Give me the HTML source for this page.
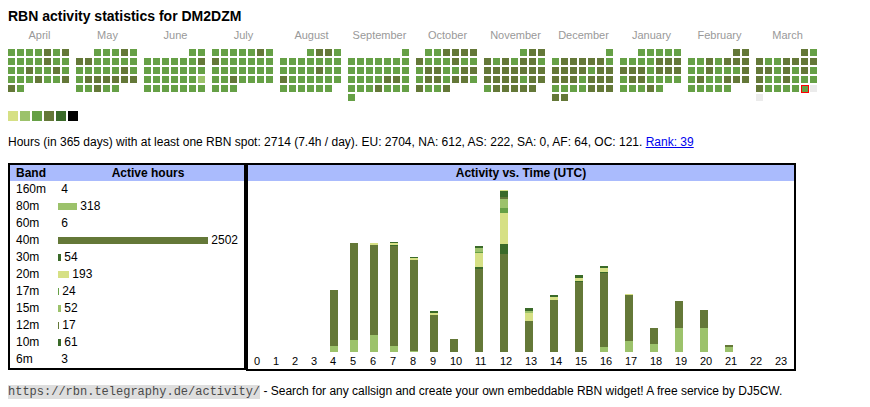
<!DOCTYPE html>
<html><head><meta charset="utf-8"><style>
html,body{margin:0;padding:0;background:#fff;}
body{width:870px;height:407px;position:relative;overflow:hidden;font-family:"Liberation Sans",sans-serif;color:#000;}
i,b.lg{position:absolute;display:block;width:7px;height:7px;}
b.lg{top:111px;width:10px;height:10px;}
.t{position:absolute;left:8px;top:5.5px;font-weight:bold;font-size:14px;line-height:20px;white-space:nowrap;}
.ml{position:absolute;top:27px;width:61px;text-align:center;font-size:11px;line-height:16px;color:#999;}
.st{position:absolute;left:8px;top:134px;font-size:12px;line-height:16px;white-space:nowrap;}
.st a{color:#00e;text-decoration:underline;}
.tb{position:absolute;box-sizing:border-box;border:2px solid #000;}
.hd{position:absolute;top:165px;height:16px;background:#aabbfd;font-weight:bold;font-size:12px;line-height:16px;white-space:nowrap;}
.br{position:absolute;left:10px;height:17px;font-size:12px;line-height:17px;white-space:pre;width:234px;}
.bn{position:absolute;left:6px;}
.bv{position:absolute;left:48px;}
.bb{display:inline-block;height:7px;vertical-align:baseline;}
.hl{position:absolute;top:353px;font-size:11px;line-height:16px;}
.ft{position:absolute;left:8px;top:383px;font-size:12px;line-height:16px;white-space:pre;}
.ft code{font-family:"Liberation Mono",monospace;font-size:12px;background:#dedede;color:#4a4a4a;}
</style></head><body>
<div class="t">RBN activity statistics for DM2DZM</div>
<div class="ml" style="left:9px">April</div><div class="ml" style="left:77px">May</div><div class="ml" style="left:145px">June</div><div class="ml" style="left:213px">July</div><div class="ml" style="left:281px">August</div><div class="ml" style="left:349px">September</div><div class="ml" style="left:417px">October</div><div class="ml" style="left:485px">November</div><div class="ml" style="left:553px">December</div><div class="ml" style="left:621px">January</div><div class="ml" style="left:689px">February</div><div class="ml" style="left:757px">March</div>
<i style="left:8px;top:49px;background:#66a046"></i><i style="left:17px;top:49px;background:#66a046"></i><i style="left:26px;top:49px;background:#66a046"></i><i style="left:35px;top:49px;background:#66a046"></i><i style="left:44px;top:49px;background:#647838"></i><i style="left:53px;top:49px;background:#66a046"></i><i style="left:62px;top:49px;background:#647838"></i><i style="left:8px;top:58px;background:#66a046"></i><i style="left:17px;top:58px;background:#66a046"></i><i style="left:26px;top:58px;background:#66a046"></i><i style="left:35px;top:58px;background:#66a046"></i><i style="left:44px;top:58px;background:#647838"></i><i style="left:53px;top:58px;background:#66a046"></i><i style="left:62px;top:58px;background:#66a046"></i><i style="left:8px;top:67px;background:#66a046"></i><i style="left:17px;top:67px;background:#66a046"></i><i style="left:26px;top:67px;background:#647838"></i><i style="left:35px;top:67px;background:#66a046"></i><i style="left:44px;top:67px;background:#66a046"></i><i style="left:53px;top:67px;background:#647838"></i><i style="left:62px;top:67px;background:#66a046"></i><i style="left:8px;top:76px;background:#66a046"></i><i style="left:17px;top:76px;background:#66a046"></i><i style="left:26px;top:76px;background:#66a046"></i><i style="left:35px;top:76px;background:#647838"></i><i style="left:44px;top:76px;background:#66a046"></i><i style="left:53px;top:76px;background:#66a046"></i><i style="left:62px;top:76px;background:#647838"></i><i style="left:8px;top:85px;background:#647838"></i><i style="left:17px;top:85px;background:#66a046"></i><i style="left:94px;top:49px;background:#66a046"></i><i style="left:103px;top:49px;background:#66a046"></i><i style="left:112px;top:49px;background:#66a046"></i><i style="left:121px;top:49px;background:#647838"></i><i style="left:130px;top:49px;background:#66a046"></i><i style="left:76px;top:58px;background:#647838"></i><i style="left:85px;top:58px;background:#647838"></i><i style="left:94px;top:58px;background:#66a046"></i><i style="left:103px;top:58px;background:#66a046"></i><i style="left:112px;top:58px;background:#66a046"></i><i style="left:121px;top:58px;background:#66a046"></i><i style="left:130px;top:58px;background:#66a046"></i><i style="left:76px;top:67px;background:#66a046"></i><i style="left:85px;top:67px;background:#66a046"></i><i style="left:94px;top:67px;background:#66a046"></i><i style="left:103px;top:67px;background:#66a046"></i><i style="left:112px;top:67px;background:#66a046"></i><i style="left:121px;top:67px;background:#647838"></i><i style="left:130px;top:67px;background:#66a046"></i><i style="left:76px;top:76px;background:#66a046"></i><i style="left:85px;top:76px;background:#647838"></i><i style="left:94px;top:76px;background:#647838"></i><i style="left:103px;top:76px;background:#647838"></i><i style="left:112px;top:76px;background:#647838"></i><i style="left:121px;top:76px;background:#647838"></i><i style="left:130px;top:76px;background:#647838"></i><i style="left:76px;top:85px;background:#66a046"></i><i style="left:85px;top:85px;background:#66a046"></i><i style="left:94px;top:85px;background:#647838"></i><i style="left:103px;top:85px;background:#66a046"></i><i style="left:112px;top:85px;background:#66a046"></i><i style="left:189px;top:49px;background:#66a046"></i><i style="left:198px;top:49px;background:#66a046"></i><i style="left:144px;top:58px;background:#66a046"></i><i style="left:153px;top:58px;background:#66a046"></i><i style="left:162px;top:58px;background:#66a046"></i><i style="left:171px;top:58px;background:#66a046"></i><i style="left:180px;top:58px;background:#66a046"></i><i style="left:189px;top:58px;background:#66a046"></i><i style="left:198px;top:58px;background:#647838"></i><i style="left:144px;top:67px;background:#66a046"></i><i style="left:153px;top:67px;background:#66a046"></i><i style="left:162px;top:67px;background:#66a046"></i><i style="left:171px;top:67px;background:#66a046"></i><i style="left:180px;top:67px;background:#66a046"></i><i style="left:189px;top:67px;background:#66a046"></i><i style="left:198px;top:67px;background:#66a046"></i><i style="left:144px;top:76px;background:#66a046"></i><i style="left:153px;top:76px;background:#66a046"></i><i style="left:162px;top:76px;background:#66a046"></i><i style="left:171px;top:76px;background:#66a046"></i><i style="left:180px;top:76px;background:#66a046"></i><i style="left:189px;top:76px;background:#66a046"></i><i style="left:198px;top:76px;background:#9cc26b"></i><i style="left:144px;top:85px;background:#66a046"></i><i style="left:153px;top:85px;background:#66a046"></i><i style="left:162px;top:85px;background:#66a046"></i><i style="left:171px;top:85px;background:#66a046"></i><i style="left:180px;top:85px;background:#66a046"></i><i style="left:189px;top:85px;background:#66a046"></i><i style="left:198px;top:85px;background:#66a046"></i><i style="left:212px;top:49px;background:#66a046"></i><i style="left:221px;top:49px;background:#66a046"></i><i style="left:230px;top:49px;background:#66a046"></i><i style="left:239px;top:49px;background:#66a046"></i><i style="left:248px;top:49px;background:#66a046"></i><i style="left:257px;top:49px;background:#647838"></i><i style="left:266px;top:49px;background:#66a046"></i><i style="left:212px;top:58px;background:#647838"></i><i style="left:221px;top:58px;background:#66a046"></i><i style="left:230px;top:58px;background:#66a046"></i><i style="left:239px;top:58px;background:#66a046"></i><i style="left:248px;top:58px;background:#66a046"></i><i style="left:257px;top:58px;background:#66a046"></i><i style="left:266px;top:58px;background:#66a046"></i><i style="left:212px;top:67px;background:#66a046"></i><i style="left:221px;top:67px;background:#66a046"></i><i style="left:230px;top:67px;background:#66a046"></i><i style="left:239px;top:67px;background:#66a046"></i><i style="left:248px;top:67px;background:#66a046"></i><i style="left:257px;top:67px;background:#66a046"></i><i style="left:266px;top:67px;background:#66a046"></i><i style="left:212px;top:76px;background:#66a046"></i><i style="left:221px;top:76px;background:#66a046"></i><i style="left:230px;top:76px;background:#647838"></i><i style="left:239px;top:76px;background:#66a046"></i><i style="left:248px;top:76px;background:#66a046"></i><i style="left:257px;top:76px;background:#66a046"></i><i style="left:266px;top:76px;background:#66a046"></i><i style="left:212px;top:85px;background:#66a046"></i><i style="left:221px;top:85px;background:#66a046"></i><i style="left:230px;top:85px;background:#66a046"></i><i style="left:307px;top:49px;background:#66a046"></i><i style="left:316px;top:49px;background:#647838"></i><i style="left:325px;top:49px;background:#647838"></i><i style="left:334px;top:49px;background:#66a046"></i><i style="left:280px;top:58px;background:#66a046"></i><i style="left:289px;top:58px;background:#66a046"></i><i style="left:298px;top:58px;background:#66a046"></i><i style="left:307px;top:58px;background:#66a046"></i><i style="left:316px;top:58px;background:#66a046"></i><i style="left:325px;top:58px;background:#66a046"></i><i style="left:334px;top:58px;background:#66a046"></i><i style="left:280px;top:67px;background:#66a046"></i><i style="left:289px;top:67px;background:#66a046"></i><i style="left:298px;top:67px;background:#66a046"></i><i style="left:307px;top:67px;background:#66a046"></i><i style="left:316px;top:67px;background:#647838"></i><i style="left:325px;top:67px;background:#66a046"></i><i style="left:334px;top:67px;background:#66a046"></i><i style="left:280px;top:76px;background:#647838"></i><i style="left:289px;top:76px;background:#66a046"></i><i style="left:298px;top:76px;background:#66a046"></i><i style="left:307px;top:76px;background:#66a046"></i><i style="left:316px;top:76px;background:#66a046"></i><i style="left:325px;top:76px;background:#66a046"></i><i style="left:334px;top:76px;background:#66a046"></i><i style="left:280px;top:85px;background:#66a046"></i><i style="left:289px;top:85px;background:#66a046"></i><i style="left:298px;top:85px;background:#66a046"></i><i style="left:307px;top:85px;background:#66a046"></i><i style="left:316px;top:85px;background:#66a046"></i><i style="left:325px;top:85px;background:#66a046"></i><i style="left:402px;top:49px;background:#66a046"></i><i style="left:348px;top:58px;background:#66a046"></i><i style="left:357px;top:58px;background:#66a046"></i><i style="left:366px;top:58px;background:#66a046"></i><i style="left:375px;top:58px;background:#66a046"></i><i style="left:384px;top:58px;background:#66a046"></i><i style="left:393px;top:58px;background:#66a046"></i><i style="left:402px;top:58px;background:#66a046"></i><i style="left:348px;top:67px;background:#66a046"></i><i style="left:357px;top:67px;background:#66a046"></i><i style="left:366px;top:67px;background:#66a046"></i><i style="left:375px;top:67px;background:#66a046"></i><i style="left:384px;top:67px;background:#66a046"></i><i style="left:393px;top:67px;background:#66a046"></i><i style="left:402px;top:67px;background:#66a046"></i><i style="left:348px;top:76px;background:#66a046"></i><i style="left:357px;top:76px;background:#66a046"></i><i style="left:366px;top:76px;background:#66a046"></i><i style="left:375px;top:76px;background:#66a046"></i><i style="left:384px;top:76px;background:#647838"></i><i style="left:393px;top:76px;background:#647838"></i><i style="left:402px;top:76px;background:#66a046"></i><i style="left:348px;top:85px;background:#66a046"></i><i style="left:357px;top:85px;background:#66a046"></i><i style="left:366px;top:85px;background:#66a046"></i><i style="left:375px;top:85px;background:#647838"></i><i style="left:384px;top:85px;background:#66a046"></i><i style="left:393px;top:85px;background:#66a046"></i><i style="left:402px;top:85px;background:#66a046"></i><i style="left:348px;top:94px;background:#66a046"></i><i style="left:425px;top:49px;background:#66a046"></i><i style="left:434px;top:49px;background:#66a046"></i><i style="left:443px;top:49px;background:#647838"></i><i style="left:452px;top:49px;background:#647838"></i><i style="left:461px;top:49px;background:#647838"></i><i style="left:470px;top:49px;background:#647838"></i><i style="left:416px;top:58px;background:#647838"></i><i style="left:425px;top:58px;background:#66a046"></i><i style="left:434px;top:58px;background:#66a046"></i><i style="left:443px;top:58px;background:#66a046"></i><i style="left:452px;top:58px;background:#647838"></i><i style="left:461px;top:58px;background:#66a046"></i><i style="left:470px;top:58px;background:#66a046"></i><i style="left:416px;top:67px;background:#66a046"></i><i style="left:425px;top:67px;background:#647838"></i><i style="left:434px;top:67px;background:#647838"></i><i style="left:443px;top:67px;background:#66a046"></i><i style="left:452px;top:67px;background:#66a046"></i><i style="left:461px;top:67px;background:#647838"></i><i style="left:470px;top:67px;background:#647838"></i><i style="left:416px;top:76px;background:#66a046"></i><i style="left:425px;top:76px;background:#647838"></i><i style="left:434px;top:76px;background:#647838"></i><i style="left:443px;top:76px;background:#66a046"></i><i style="left:452px;top:76px;background:#647838"></i><i style="left:461px;top:76px;background:#647838"></i><i style="left:470px;top:76px;background:#66a046"></i><i style="left:416px;top:85px;background:#647838"></i><i style="left:425px;top:85px;background:#66a046"></i><i style="left:434px;top:85px;background:#66a046"></i><i style="left:443px;top:85px;background:#647838"></i><i style="left:520px;top:49px;background:#66a046"></i><i style="left:529px;top:49px;background:#647838"></i><i style="left:538px;top:49px;background:#647838"></i><i style="left:484px;top:58px;background:#647838"></i><i style="left:493px;top:58px;background:#66a046"></i><i style="left:502px;top:58px;background:#647838"></i><i style="left:511px;top:58px;background:#66a046"></i><i style="left:520px;top:58px;background:#647838"></i><i style="left:529px;top:58px;background:#647838"></i><i style="left:538px;top:58px;background:#66a046"></i><i style="left:484px;top:67px;background:#647838"></i><i style="left:493px;top:67px;background:#647838"></i><i style="left:502px;top:67px;background:#647838"></i><i style="left:511px;top:67px;background:#647838"></i><i style="left:520px;top:67px;background:#647838"></i><i style="left:529px;top:67px;background:#647838"></i><i style="left:538px;top:67px;background:#647838"></i><i style="left:484px;top:76px;background:#647838"></i><i style="left:493px;top:76px;background:#647838"></i><i style="left:502px;top:76px;background:#647838"></i><i style="left:511px;top:76px;background:#647838"></i><i style="left:520px;top:76px;background:#66a046"></i><i style="left:529px;top:76px;background:#647838"></i><i style="left:538px;top:76px;background:#647838"></i><i style="left:484px;top:85px;background:#66a046"></i><i style="left:493px;top:85px;background:#647838"></i><i style="left:502px;top:85px;background:#647838"></i><i style="left:511px;top:85px;background:#647838"></i><i style="left:520px;top:85px;background:#647838"></i><i style="left:529px;top:85px;background:#647838"></i><i style="left:606px;top:49px;background:#66a046"></i><i style="left:552px;top:58px;background:#66a046"></i><i style="left:561px;top:58px;background:#647838"></i><i style="left:570px;top:58px;background:#647838"></i><i style="left:579px;top:58px;background:#647838"></i><i style="left:588px;top:58px;background:#647838"></i><i style="left:597px;top:58px;background:#647838"></i><i style="left:606px;top:58px;background:#66a046"></i><i style="left:552px;top:67px;background:#647838"></i><i style="left:561px;top:67px;background:#647838"></i><i style="left:570px;top:67px;background:#647838"></i><i style="left:579px;top:67px;background:#647838"></i><i style="left:588px;top:67px;background:#66a046"></i><i style="left:597px;top:67px;background:#647838"></i><i style="left:606px;top:67px;background:#647838"></i><i style="left:552px;top:76px;background:#647838"></i><i style="left:561px;top:76px;background:#647838"></i><i style="left:570px;top:76px;background:#647838"></i><i style="left:579px;top:76px;background:#66a046"></i><i style="left:588px;top:76px;background:#647838"></i><i style="left:597px;top:76px;background:#647838"></i><i style="left:606px;top:76px;background:#647838"></i><i style="left:552px;top:85px;background:#66a046"></i><i style="left:561px;top:85px;background:#66a046"></i><i style="left:570px;top:85px;background:#66a046"></i><i style="left:579px;top:85px;background:#66a046"></i><i style="left:588px;top:85px;background:#647838"></i><i style="left:597px;top:85px;background:#647838"></i><i style="left:606px;top:85px;background:#647838"></i><i style="left:552px;top:94px;background:#647838"></i><i style="left:561px;top:94px;background:#647838"></i><i style="left:638px;top:49px;background:#66a046"></i><i style="left:647px;top:49px;background:#66a046"></i><i style="left:656px;top:49px;background:#66a046"></i><i style="left:665px;top:49px;background:#66a046"></i><i style="left:674px;top:49px;background:#66a046"></i><i style="left:620px;top:58px;background:#66a046"></i><i style="left:629px;top:58px;background:#66a046"></i><i style="left:638px;top:58px;background:#66a046"></i><i style="left:647px;top:58px;background:#66a046"></i><i style="left:656px;top:58px;background:#647838"></i><i style="left:665px;top:58px;background:#647838"></i><i style="left:674px;top:58px;background:#647838"></i><i style="left:620px;top:67px;background:#647838"></i><i style="left:629px;top:67px;background:#647838"></i><i style="left:638px;top:67px;background:#647838"></i><i style="left:647px;top:67px;background:#66a046"></i><i style="left:656px;top:67px;background:#647838"></i><i style="left:665px;top:67px;background:#647838"></i><i style="left:674px;top:67px;background:#647838"></i><i style="left:620px;top:76px;background:#66a046"></i><i style="left:629px;top:76px;background:#647838"></i><i style="left:638px;top:76px;background:#647838"></i><i style="left:647px;top:76px;background:#66a046"></i><i style="left:656px;top:76px;background:#66a046"></i><i style="left:665px;top:76px;background:#66a046"></i><i style="left:674px;top:76px;background:#66a046"></i><i style="left:620px;top:85px;background:#66a046"></i><i style="left:629px;top:85px;background:#66a046"></i><i style="left:638px;top:85px;background:#66a046"></i><i style="left:647px;top:85px;background:#647838"></i><i style="left:656px;top:85px;background:#66a046"></i><i style="left:733px;top:49px;background:#647838"></i><i style="left:742px;top:49px;background:#647838"></i><i style="left:688px;top:58px;background:#66a046"></i><i style="left:697px;top:58px;background:#66a046"></i><i style="left:706px;top:58px;background:#647838"></i><i style="left:715px;top:58px;background:#66a046"></i><i style="left:724px;top:58px;background:#647838"></i><i style="left:733px;top:58px;background:#647838"></i><i style="left:742px;top:58px;background:#647838"></i><i style="left:688px;top:67px;background:#66a046"></i><i style="left:697px;top:67px;background:#66a046"></i><i style="left:706px;top:67px;background:#647838"></i><i style="left:715px;top:67px;background:#66a046"></i><i style="left:724px;top:67px;background:#66a046"></i><i style="left:733px;top:67px;background:#66a046"></i><i style="left:742px;top:67px;background:#647838"></i><i style="left:688px;top:76px;background:#66a046"></i><i style="left:697px;top:76px;background:#647838"></i><i style="left:706px;top:76px;background:#66a046"></i><i style="left:715px;top:76px;background:#66a046"></i><i style="left:724px;top:76px;background:#647838"></i><i style="left:733px;top:76px;background:#647838"></i><i style="left:742px;top:76px;background:#647838"></i><i style="left:688px;top:85px;background:#66a046"></i><i style="left:697px;top:85px;background:#66a046"></i><i style="left:706px;top:85px;background:#66a046"></i><i style="left:715px;top:85px;background:#66a046"></i><i style="left:724px;top:85px;background:#66a046"></i><i style="left:801px;top:49px;background:#647838"></i><i style="left:810px;top:49px;background:#66a046"></i><i style="left:756px;top:58px;background:#647838"></i><i style="left:765px;top:58px;background:#66a046"></i><i style="left:774px;top:58px;background:#66a046"></i><i style="left:783px;top:58px;background:#647838"></i><i style="left:792px;top:58px;background:#647838"></i><i style="left:801px;top:58px;background:#647838"></i><i style="left:810px;top:58px;background:#647838"></i><i style="left:756px;top:67px;background:#647838"></i><i style="left:765px;top:67px;background:#647838"></i><i style="left:774px;top:67px;background:#66a046"></i><i style="left:783px;top:67px;background:#647838"></i><i style="left:792px;top:67px;background:#66a046"></i><i style="left:801px;top:67px;background:#647838"></i><i style="left:810px;top:67px;background:#66a046"></i><i style="left:756px;top:76px;background:#647838"></i><i style="left:765px;top:76px;background:#66a046"></i><i style="left:774px;top:76px;background:#66a046"></i><i style="left:783px;top:76px;background:#647838"></i><i style="left:792px;top:76px;background:#66a046"></i><i style="left:801px;top:76px;background:#66a046"></i><i style="left:810px;top:76px;background:#66a046"></i><i style="left:756px;top:85px;background:#647838"></i><i style="left:765px;top:85px;background:#66a046"></i><i style="left:774px;top:85px;background:#66a046"></i><i style="left:783px;top:85px;background:#66a046"></i><i style="left:792px;top:85px;background:#66a046"></i><i style="left:801px;top:85px;width:6px;height:6px;border:1px solid #f00;background:#66a046"></i><i style="left:810px;top:85px;background:#ebebeb"></i><i style="left:756px;top:94px;background:#ebebeb"></i>
<b class="lg" style="left:8px;background:#d6e085"></b><b class="lg" style="left:20px;background:#9cc26b"></b><b class="lg" style="left:32px;background:#66a046"></b><b class="lg" style="left:44px;background:#647838"></b><b class="lg" style="left:56px;background:#3a6a29"></b><b class="lg" style="left:68px;background:#000000"></b>
<div class="st">Hours (in 365 days) with at least one RBN spot: 2714 (7.4h / day). EU: 2704, NA: 612, AS: 222, SA: 0, AF: 64, OC: 121. <a>Rank: 39</a></div>
<div class="tb" style="left:8px;top:163px;width:238px;height:207px"></div>
<div class="tb" style="left:246px;top:163px;width:550px;height:208px"></div>
<div class="hd" style="left:10px;width:234px"><span style="position:absolute;left:6px">Band</span><span style="position:absolute;left:42px;width:192px;text-align:center">Active hours</span></div>
<div class="hd" style="left:248px;width:546px;text-align:center">Activity vs. Time (UTC)</div>
<div class="br" style="top:181px"><span class="bn">160m</span><span class="bv"> 4</span></div><div class="br" style="top:198px"><span class="bn">80m</span><span class="bv"><span class="bb" style="width:19px;background:#9cc26b"></span> 318</span></div><div class="br" style="top:215px"><span class="bn">60m</span><span class="bv"> 6</span></div><div class="br" style="top:232px"><span class="bn">40m</span><span class="bv"><span class="bb" style="width:150px;background:#647838"></span> 2502</span></div><div class="br" style="top:249px"><span class="bn">30m</span><span class="bv"><span class="bb" style="width:3px;background:#3a6a29"></span> 54</span></div><div class="br" style="top:266px"><span class="bn">20m</span><span class="bv"><span class="bb" style="width:11px;background:#d6e085"></span> 193</span></div><div class="br" style="top:283px"><span class="bn">17m</span><span class="bv"><span class="bb" style="width:1px;background:#66a046"></span> 24</span></div><div class="br" style="top:300px"><span class="bn">15m</span><span class="bv"><span class="bb" style="width:3px;background:#9cc26b"></span> 52</span></div><div class="br" style="top:317px"><span class="bn">12m</span><span class="bv"><span class="bb" style="width:1px;background:#647838"></span> 17</span></div><div class="br" style="top:334px"><span class="bn">10m</span><span class="bv"><span class="bb" style="width:3px;background:#3a6a29"></span> 61</span></div><div class="br" style="top:351px"><span class="bn">6m</span><span class="bv"> 3</span></div>
<i style="left:330px;top:290px;width:8px;height:56px;background:#647838"></i><i style="left:330px;top:346px;width:8px;height:6px;background:#9cc26b"></i><i style="left:350px;top:243px;width:8px;height:97px;background:#647838"></i><i style="left:350px;top:340px;width:8px;height:12px;background:#9cc26b"></i><i style="left:370px;top:243px;width:8px;height:2px;background:#d6e085"></i><i style="left:370px;top:245px;width:8px;height:90px;background:#647838"></i><i style="left:370px;top:335px;width:8px;height:17px;background:#9cc26b"></i><i style="left:390px;top:242px;width:8px;height:1px;background:#3a6a29"></i><i style="left:390px;top:243px;width:8px;height:2px;background:#d6e085"></i><i style="left:390px;top:245px;width:8px;height:1px;background:#3a6a29"></i><i style="left:390px;top:246px;width:8px;height:100px;background:#647838"></i><i style="left:390px;top:346px;width:8px;height:6px;background:#9cc26b"></i><i style="left:410px;top:257px;width:8px;height:1px;background:#3a6a29"></i><i style="left:410px;top:258px;width:8px;height:2px;background:#d6e085"></i><i style="left:410px;top:260px;width:8px;height:91px;background:#647838"></i><i style="left:410px;top:351px;width:8px;height:1px;background:#9cc26b"></i><i style="left:430px;top:311px;width:8px;height:2px;background:#3a6a29"></i><i style="left:430px;top:313px;width:8px;height:2px;background:#d6e085"></i><i style="left:430px;top:315px;width:8px;height:37px;background:#647838"></i><i style="left:450px;top:339px;width:8px;height:13px;background:#647838"></i><i style="left:475px;top:246px;width:8px;height:2px;background:#3a6a29"></i><i style="left:475px;top:248px;width:8px;height:4px;background:#9cc26b"></i><i style="left:475px;top:252px;width:8px;height:1px;background:#66a046"></i><i style="left:475px;top:253px;width:8px;height:14px;background:#d6e085"></i><i style="left:475px;top:267px;width:8px;height:2px;background:#3a6a29"></i><i style="left:475px;top:269px;width:8px;height:83px;background:#647838"></i><i style="left:500px;top:190px;width:8px;height:1px;background:#d6e085"></i><i style="left:500px;top:191px;width:8px;height:6px;background:#3a6a29"></i><i style="left:500px;top:197px;width:8px;height:2px;background:#647838"></i><i style="left:500px;top:199px;width:8px;height:9px;background:#9cc26b"></i><i style="left:500px;top:208px;width:8px;height:5px;background:#66a046"></i><i style="left:500px;top:213px;width:8px;height:31px;background:#d6e085"></i><i style="left:500px;top:244px;width:8px;height:10px;background:#3a6a29"></i><i style="left:500px;top:254px;width:8px;height:98px;background:#647838"></i><i style="left:525px;top:308px;width:8px;height:3px;background:#3a6a29"></i><i style="left:525px;top:311px;width:8px;height:2px;background:#9cc26b"></i><i style="left:525px;top:313px;width:8px;height:8px;background:#d6e085"></i><i style="left:525px;top:321px;width:8px;height:31px;background:#647838"></i><i style="left:550px;top:295px;width:8px;height:2px;background:#3a6a29"></i><i style="left:550px;top:297px;width:8px;height:3px;background:#d6e085"></i><i style="left:550px;top:300px;width:8px;height:52px;background:#647838"></i><i style="left:575px;top:275px;width:8px;height:3px;background:#3a6a29"></i><i style="left:575px;top:278px;width:8px;height:3px;background:#d6e085"></i><i style="left:575px;top:281px;width:8px;height:1px;background:#3a6a29"></i><i style="left:575px;top:282px;width:8px;height:70px;background:#647838"></i><i style="left:600px;top:266px;width:8px;height:2px;background:#3a6a29"></i><i style="left:600px;top:268px;width:8px;height:4px;background:#d6e085"></i><i style="left:600px;top:272px;width:8px;height:1px;background:#3a6a29"></i><i style="left:600px;top:273px;width:8px;height:74px;background:#647838"></i><i style="left:600px;top:347px;width:8px;height:5px;background:#9cc26b"></i><i style="left:625px;top:294px;width:8px;height:1px;background:#d6e085"></i><i style="left:625px;top:295px;width:8px;height:46px;background:#647838"></i><i style="left:625px;top:341px;width:8px;height:11px;background:#9cc26b"></i><i style="left:650px;top:328px;width:8px;height:16px;background:#647838"></i><i style="left:650px;top:344px;width:8px;height:8px;background:#9cc26b"></i><i style="left:675px;top:301px;width:8px;height:27px;background:#647838"></i><i style="left:675px;top:328px;width:8px;height:24px;background:#9cc26b"></i><i style="left:700px;top:310px;width:8px;height:18px;background:#647838"></i><i style="left:700px;top:328px;width:8px;height:24px;background:#9cc26b"></i><i style="left:725px;top:345px;width:8px;height:2px;background:#647838"></i><i style="left:725px;top:347px;width:8px;height:5px;background:#9cc26b"></i>
<div class="hl" style="left:254px">0</div><div class="hl" style="left:273px">1</div><div class="hl" style="left:292px">2</div><div class="hl" style="left:311px">3</div><div class="hl" style="left:330px">4</div><div class="hl" style="left:350px">5</div><div class="hl" style="left:370px">6</div><div class="hl" style="left:390px">7</div><div class="hl" style="left:410px">8</div><div class="hl" style="left:430px">9</div><div class="hl" style="left:450px">10</div><div class="hl" style="left:475px">11</div><div class="hl" style="left:500px">12</div><div class="hl" style="left:525px">13</div><div class="hl" style="left:550px">14</div><div class="hl" style="left:575px">15</div><div class="hl" style="left:600px">16</div><div class="hl" style="left:625px">17</div><div class="hl" style="left:650px">18</div><div class="hl" style="left:675px">19</div><div class="hl" style="left:700px">20</div><div class="hl" style="left:725px">21</div><div class="hl" style="left:750px">22</div><div class="hl" style="left:775px">23</div>
<div class="ft"><code>https://rbn.telegraphy.de/activity/</code> - Search for any callsign and create your own embeddable RBN widget! A free service by DJ5CW.</div>
</body></html>
